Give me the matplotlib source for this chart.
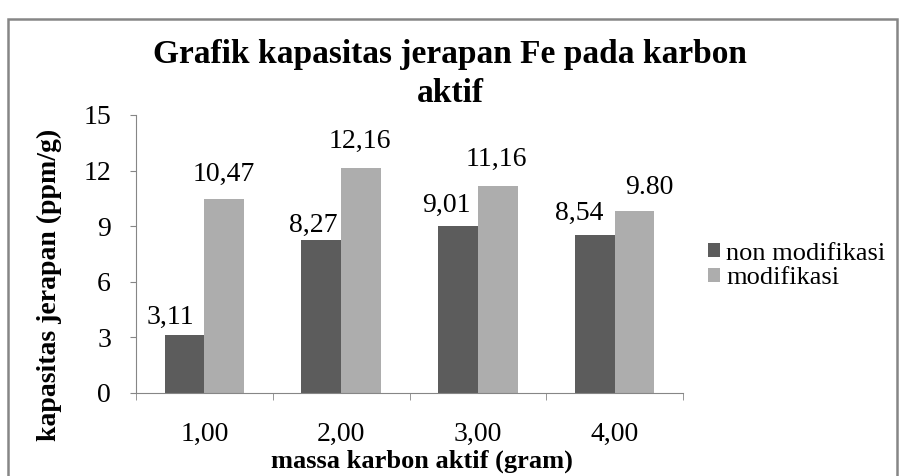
import matplotlib
import numpy as np

matplotlib.use("Agg")
import matplotlib.pyplot as plt
from matplotlib.patches import Rectangle

plt.rcParams["font.family"] = ["Liberation Serif", "DejaVu Serif"]

categories = ["1,00", "2,00", "3,00", "4,00"]
non_modifikasi = [3.11, 8.27, 9.01, 8.54]
modifikasi = [10.47, 12.16, 11.16, 9.80]
label_non = ["3,11", "8,27", "9,01", "8,54"]
label_mod = ["10,47", "12,16", "11,16", "9.80"]
yticks = [0, 3, 6, 9, 12, 15]

# label nudges as in the original (pixels: dx, dy above bar top)
nudge_non = [(-14, 11), (-8, 8), (-12, 14), (-16, 15)]
nudge_mod = [(0, 18), (-1, 20), (-1, 20), (15, 17)]

W, H = 905, 476
fig = plt.figure(figsize=(W / 100, H / 100), dpi=100)
# chart-area border (Excel style), bottom runs off the picture
fig.patches.append(Rectangle((8 / W, -0.05), 889 / W, 1.05 - 19 / H,
                             transform=fig.transFigure, fill=False,
                             edgecolor="#868686", linewidth=1.8))
ax = fig.add_axes([136 / W, 1 - 393 / H, (683 - 136) / W, (393 - 115) / H])

x = np.arange(len(categories))
width = 0.29
ax.bar(x - width / 2, non_modifikasi, width, color="#5c5c5c", label="non modifikasi")
ax.bar(x + width / 2, modifikasi, width, color="#adadad", label="modifikasi")
px = 0.72  # points per pixel at dpi 100
for i in range(len(categories)):
    dx, dy = nudge_non[i]
    ax.annotate(label_non[i], (x[i] - width / 2, non_modifikasi[i]),
                xytext=(dx * px, dy * px), textcoords="offset points",
                ha="center", va="baseline", fontsize=20)
    dx, dy = nudge_mod[i]
    ax.annotate(label_mod[i], (x[i] + width / 2, modifikasi[i]),
                xytext=(dx * px, dy * px), textcoords="offset points",
                ha="center", va="baseline", fontsize=20)

ax.set_xlim(-0.5, len(categories) - 0.5)
ax.set_ylim(0, 15)
ax.set_yticks(yticks)
ax.set_yticklabels([str(v) for v in yticks], fontsize=20)
ax.set_xticks(x)
ax.set_xticklabels(categories, fontsize=20)
ax.tick_params(axis="x", length=0, pad=21)
ax.set_xticks(np.arange(-0.5, len(categories)), minor=True)
ax.tick_params(axis="x", which="minor", length=5, color="#868686")
ax.tick_params(axis="y", length=4, color="#868686", pad=14)
for s in ["top", "right"]:
    ax.spines[s].set_visible(False)
for s in ["left", "bottom"]:
    ax.spines[s].set_color("#868686")

fig.text(422 / W, 1 - 468 / H, "massa karbon aktif (gram)", ha="center",
         va="baseline", fontsize=19, fontweight="bold")
fig.text(49 / W, 1 - 285 / H, "kapasitas jerapan (ppm/g)", ha="center",
         va="center", rotation=90, fontsize=20, fontweight="bold")
fig.text(450 / W, 1 - 55 / H, "Grafik kapasitas jerapan Fe pada karbon",
         ha="center", va="center", fontsize=24, fontweight="bold")
fig.text(450 / W, 1 - 93 / H, "aktif", ha="center", va="center", fontsize=24,
         fontweight="bold")
fig.legend(loc="center left", bbox_to_anchor=(708 / W, 1 - 266 / H), frameon=False,
           fontsize=19, handlelength=0.45, handleheight=0.45, handletextpad=0.25,
           labelspacing=0.1, borderpad=0, borderaxespad=0)

fig.savefig("out.png", dpi=100)
